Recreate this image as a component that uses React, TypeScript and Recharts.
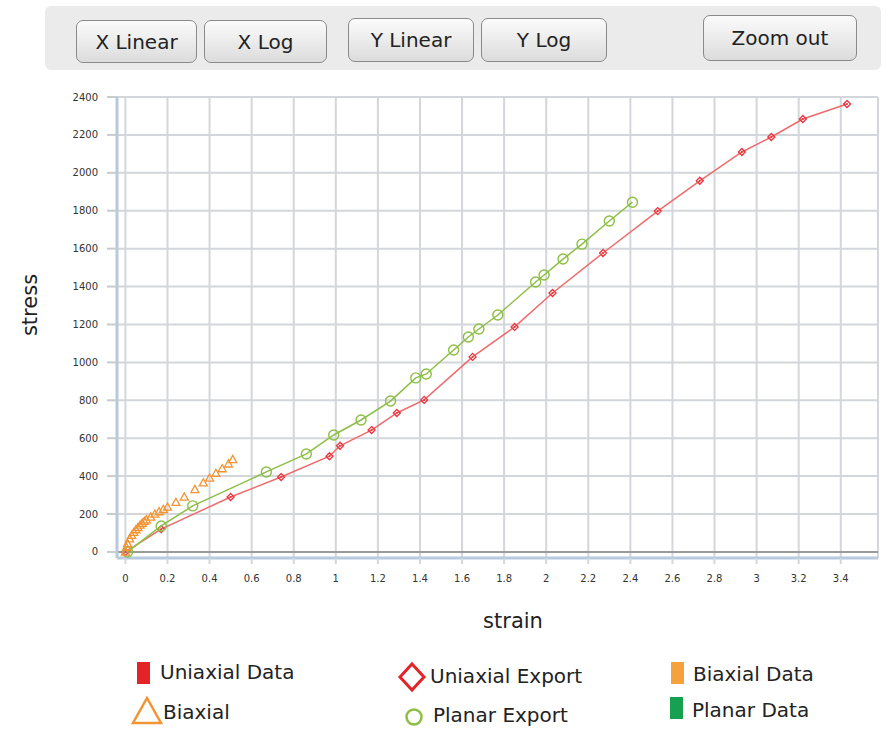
import React from "react"
import { CartesianGrid, ReferenceLine, Scatter, ScatterChart, XAxis, YAxis } from "recharts"

// Uniaxial Export (red)
const uniaxialStrain = [0, 0.17, 0.5, 0.74, 0.97, 1.02, 1.17, 1.29, 1.42, 1.65, 1.85, 2.03, 2.27, 2.53, 2.73, 2.93, 3.07, 3.22, 3.43]
const uniaxialStress = [0, 120, 290, 395, 505, 560, 643, 733, 802, 1029, 1187, 1366, 1577, 1798, 1958, 2110, 2189, 2284, 2363]

// Planar Export (green)
const planarStrain = [0.01, 0.17, 0.32, 0.67, 0.86, 0.99, 1.12, 1.26, 1.38, 1.43, 1.56, 1.63, 1.68, 1.77, 1.95, 1.99, 2.08, 2.17, 2.3, 2.41]
const planarStress = [0, 137, 243, 422, 517, 617, 696, 796, 918, 939, 1065, 1134, 1176, 1250, 1424, 1461, 1545, 1624, 1746, 1845]

// Biaxial (orange)
const biaxialStrain = [0, 0.005, 0.01, 0.02, 0.03, 0.04, 0.05, 0.06, 0.07, 0.08, 0.09, 0.1, 0.12, 0.14, 0.16, 0.18, 0.2, 0.24, 0.28, 0.33, 0.37, 0.4, 0.43, 0.46, 0.49, 0.51]
const biaxialStress = [0, 25, 45, 70, 88, 104, 118, 130, 142, 152, 162, 170, 185, 200, 213, 225, 237, 262, 290, 330, 365, 390, 415, 440, 465, 488]

const xTicks = [0, 0.2, 0.4, 0.6, 0.8, 1, 1.2, 1.4, 1.6, 1.8, 2, 2.2, 2.4, 2.6, 2.8, 3, 3.2, 3.4]
const yTicks = [0, 200, 400, 600, 800, 1000, 1200, 1400, 1600, 1800, 2000, 2200, 2400]

const toPoints = (xs: number[], ys: number[]) => xs.map((x, i) => ({ x, y: ys[i] }))

const uniaxial = toPoints(uniaxialStrain, uniaxialStress)
const planar = toPoints(planarStrain, planarStress)
const biaxial = toPoints(biaxialStrain, biaxialStress)

const RED = "#e8343c"
const GREEN = "#8cbf45"
const ORANGE = "#f39434"
const FONT = "'DejaVu Sans', Verdana, sans-serif"

const Diamond = (props: any) => {
  const { cx, cy } = props
  if (cx == null || cy == null) return null
  const s = 3.5
  return (
    <g>
      <path d={`M${cx},${cy - s} L${cx + s},${cy} L${cx},${cy + s} L${cx - s},${cy} Z`} fill="none" stroke={RED} strokeWidth={1.3} />
      <circle cx={cx} cy={cy} r={1} fill={RED} />
    </g>
  )
}

const Ring = (props: any) => {
  const { cx, cy } = props
  if (cx == null || cy == null) return null
  return <circle cx={cx} cy={cy} r={5} fill="none" stroke={GREEN} strokeWidth={1.4} />
}

const Tri = (props: any) => {
  const { cx, cy } = props
  if (cx == null || cy == null) return null
  const s = 4
  return <path d={`M${cx},${cy - s} L${cx + s},${cy + s * 0.8} L${cx - s},${cy + s * 0.8} Z`} fill="none" stroke={ORANGE} strokeWidth={1.3} />
}

const btn = (left: number, top: number, w: number, h: number, label: string) => (
  <div
    key={label}
    style={{
      position: "absolute",
      left,
      top,
      width: w,
      height: h,
      boxSizing: "border-box",
      border: "1px solid #8a8a8a",
      borderRadius: 7,
      background: "linear-gradient(#fbfbfb, #dcdcdc)",
      fontFamily: FONT,
      fontSize: 20,
      color: "#222",
      display: "flex",
      alignItems: "center",
      justifyContent: "center",
    }}
  >
    {label}
  </div>
)

const legendText = (left: number, top: number, label: string) => (
  <div style={{ position: "absolute", left, top, fontFamily: FONT, fontSize: 20, color: "#222", whiteSpace: "nowrap" }}>{label}</div>
)

export default function App() {
  return (
    <div style={{ position: "absolute", left: 0, top: 0, width: 886, height: 736, background: "#fff", overflow: "hidden" }}>
      <div style={{ position: "absolute", left: 45, top: 6, width: 836, height: 64, background: "#ebebeb", borderRadius: 6 }} />
      {btn(76, 20, 121, 43, "X Linear")}
      {btn(204, 20, 123, 43, "X Log")}
      {btn(348, 18, 126, 44, "Y Linear")}
      {btn(481, 18, 126, 44, "Y Log")}
      {btn(703, 15, 154, 46, "Zoom out")}

      <div style={{ position: "absolute", left: 0, top: 0 }}>
        <ScatterChart width={886} height={600} margin={{ top: 97, right: 8, left: 57, bottom: 12 }}>
          <CartesianGrid stroke="#d3d6da" strokeWidth={2} />
          <XAxis
            type="number"
            dataKey="x"
            domain={[-0.04, 3.577]}
            ticks={xTicks}
            allowDataOverflow
            height={30}
            axisLine={{ stroke: "#b7c9de", strokeWidth: 3 }}
            tickLine={{ stroke: "#d3d6da", strokeWidth: 2 }}
            tickSize={6}
            tickMargin={11}
            tick={{ fontSize: 10, fill: "#333", fontFamily: FONT }}
            interval={0}
          />
          <YAxis
            type="number"
            dataKey="y"
            domain={[-32, 2400]}
            ticks={yTicks}
            allowDataOverflow
            width={60}
            axisLine={{ stroke: "#b7c9de", strokeWidth: 3 }}
            tickLine={{ stroke: "#c8cbcf", strokeWidth: 2 }}
            tickSize={10}
            tickMargin={9}
            tick={{ fontSize: 10, fill: "#333", fontFamily: FONT }}
            interval={0}
          />
          <ReferenceLine y={0} stroke="#9a9a9a" strokeWidth={2} />
          <Scatter data={uniaxial} line={{ stroke: "#f06a6a", strokeWidth: 1.5 }} shape={<Diamond />} isAnimationActive={false} />
          <Scatter data={planar} line={{ stroke: GREEN, strokeWidth: 1.5 }} shape={<Ring />} isAnimationActive={false} />
          <Scatter data={biaxial} shape={<Tri />} isAnimationActive={false} />
        </ScatterChart>
      </div>

      <div style={{ position: "absolute", left: 30, top: 305, transform: "translate(-50%, -50%) rotate(-90deg)", fontFamily: FONT, fontSize: 21, color: "#222" }}>stress</div>
      <div style={{ position: "absolute", left: 513, top: 621, transform: "translate(-50%, -50%)", fontFamily: FONT, fontSize: 21, color: "#222" }}>strain</div>

      <svg style={{ position: "absolute", left: 0, top: 650 }} width={886} height={86}>
        <rect x={137} y={12} width={13} height={22} fill="#e32328" />
        <path d="M412,14 L424,27 L412,40 L400,27 Z" fill="none" stroke="#e32328" strokeWidth={3} />
        <rect x={671} y={12} width={13} height={22} fill="#f5a23a" />
        <path d="M147,48 L161,73 L133,73 Z" fill="none" stroke={ORANGE} strokeWidth={2.5} />
        <circle cx={414} cy={67} r={7.5} fill="none" stroke={GREEN} strokeWidth={2.5} />
        <rect x={670} y={47} width={13} height={22} fill="#17a052" />
      </svg>
      {legendText(160, 660, "Uniaxial Data")}
      {legendText(430, 664, "Uniaxial Export")}
      {legendText(693, 662, "Biaxial Data")}
      {legendText(163, 700, "Biaxial")}
      {legendText(433, 703, "Planar Export")}
      {legendText(692, 698, "Planar Data")}
    </div>
  )
}
